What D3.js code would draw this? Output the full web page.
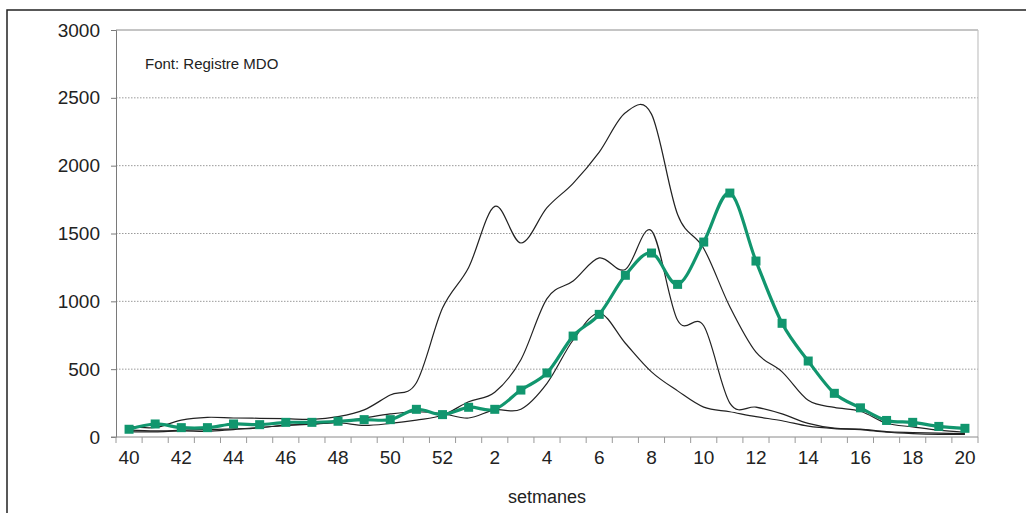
<!DOCTYPE html>
<html>
<head>
<meta charset="utf-8">
<script src="https://cdn.jsdelivr.net/npm/d3@7"></script>
<style>
  html, body { margin: 0; padding: 0; background: #fff; }
  svg { display: block; font-family: "Liberation Sans", Arial, sans-serif; }
</style>
</head>
<body>
<svg id="chart" width="1026" height="513"></svg>
<script>
// ---- data ----
const weeks = ["40","41","42","43","44","45","46","47","48","49","50","51","52",
  "1","2","3","4","5","6","7","8","9","10","11","12","13","14","15","16","17","18","19","20"];
const tickLabels = ["40","42","44","46","48","50","52","2","4","6","8","10","12","14","16","18","20"];
const yTicks = [0, 500, 1000, 1500, 2000, 2500, 3000];

// current season (green, with markers)
const seasonCurrent = [57,96,69,69,96,91,108,108,116,128,128,204,165,
  219,204,346,472,744,904,1192,1356,1125,1437,1798,1297,838,560,322,215,122,108,78,64];
// previous seasons (thin black lines)
const seasonA = [80,70,125,145,140,138,135,130,150,200,310,400,950,
  1250,1700,1430,1690,1870,2100,2390,2380,1640,1390,960,625,480,270,218,190,101,75,50,35];
const seasonB = [50,45,50,55,60,70,85,95,105,85,100,125,160,
  260,330,570,1020,1150,1320,1235,1520,860,820,250,220,170,100,65,58,40,33,28,25];
const seasonC = [40,38,45,42,55,68,88,95,110,140,170,186,172,
  140,200,205,396,715,912,691,480,340,220,186,150,120,80,62,55,35,25,20,20];

const sourceText = "Font: Registre MDO";
const xTitle = "setmanes";

// ---- layout ----
const svg = d3.select("#chart");
const mLeft = 116, mRight = 978, mTop = 30, mBottom = 437;

const x = d3.scaleBand().domain(weeks).range([mLeft, mRight]).padding(0);
const y = d3.scaleLinear().domain([0, 3000]).range([mBottom, mTop]);
const cx = w => x(w) + x.bandwidth() / 2;

// outer frame (clipped by page)
svg.append("rect")
  .attr("x", 7).attr("y", 10).attr("width", 1100).attr("height", 600)
  .attr("fill", "none").attr("stroke", "#222").attr("stroke-width", 1.5);

// gridlines
svg.append("g").selectAll("line")
  .data(yTicks.filter(t => t > 0 && t < 3000))
  .join("line")
  .attr("x1", mLeft).attr("x2", mRight)
  .attr("y1", d => y(d)).attr("y2", d => y(d))
  .attr("stroke", "#9a9a9a").attr("stroke-width", 1)
  .attr("stroke-dasharray", "1.5,1.5");

// top line and right border of plot area
svg.append("line").attr("x1", mLeft).attr("x2", mRight)
  .attr("y1", y(3000)).attr("y2", y(3000))
  .attr("stroke", "#8a8a8a").attr("stroke-width", 1);
svg.append("line").attr("x1", mRight).attr("x2", mRight)
  .attr("y1", y(3000)).attr("y2", y(0))
  .attr("stroke", "#c4c4c4").attr("stroke-width", 1.2);

// y axis
const yAxis = d3.axisLeft(y).tickValues(yTicks).tickSize(5).tickPadding(11).tickFormat(d3.format("d"));
const gy = svg.append("g").attr("transform", `translate(${mLeft},0)`).call(yAxis);
gy.select(".domain").attr("stroke", "#7a7a7a");
gy.selectAll(".tick line").attr("stroke", "#7a7a7a");
gy.selectAll("text").attr("font-size", 19).attr("fill", "#222")
  .attr("font-family", "Liberation Sans, Arial, sans-serif");

// x axis
const gx = svg.append("g").attr("transform", `translate(0,${mBottom})`);
gx.append("line").attr("x1", mLeft - 5).attr("x2", mRight).attr("y1", 0).attr("y2", 0)
  .attr("stroke", "#8a8a8a").attr("stroke-width", 1);
gx.selectAll("line.tk")
  .data(weeks.concat(["__end"]))
  .join("line").attr("class", "tk")
  .attr("x1", d => d === "__end" ? mRight : x(d))
  .attr("x2", d => d === "__end" ? mRight : x(d))
  .attr("y1", 0).attr("y2", 6)
  .attr("stroke", "#9a9a9a").attr("stroke-width", 1);
const xAxis = d3.axisBottom(x).tickValues(tickLabels).tickSize(0).tickPadding(14);
const gxl = svg.append("g").attr("transform", `translate(0,${mBottom})`).call(xAxis);
gxl.select(".domain").remove();
gxl.selectAll("text").attr("font-size", 19).attr("fill", "#222")
  .attr("font-family", "Liberation Sans, Arial, sans-serif");

// x title
svg.append("text").attr("x", (mLeft + mRight) / 2).attr("y", 503)
  .attr("text-anchor", "middle").attr("font-size", 18).attr("fill", "#222")
  .text(xTitle);

// source note
svg.append("text").attr("x", 145).attr("y", 69)
  .attr("font-size", 15).attr("fill", "#222").text(sourceText);

// lines
const lineGen = d3.line()
  .x((d, i) => cx(weeks[i]))
  .y(d => y(d))
  .curve(d3.curveCardinal.tension(0));

[seasonA, seasonB, seasonC].forEach(s => {
  svg.append("path").datum(s).attr("d", lineGen)
    .attr("fill", "none").attr("stroke", "#222").attr("stroke-width", 1.2);
});

const green = "#11966e";
svg.append("path").datum(seasonCurrent).attr("d", lineGen)
  .attr("fill", "none").attr("stroke", green).attr("stroke-width", 3.2);

const ms = 9;
svg.append("g").selectAll("rect")
  .data(seasonCurrent)
  .join("rect")
  .attr("x", (d, i) => cx(weeks[i]) - ms / 2)
  .attr("y", d => y(d) - ms / 2)
  .attr("width", ms).attr("height", ms)
  .attr("fill", green);
</script>
</body>
</html>
